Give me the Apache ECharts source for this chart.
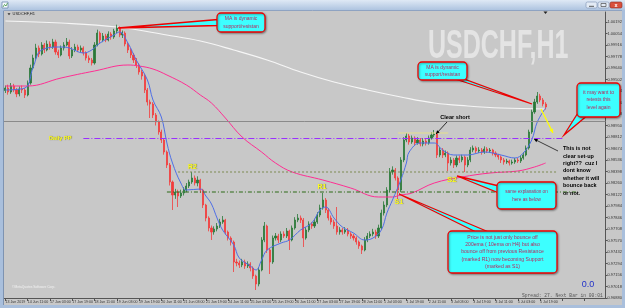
<!DOCTYPE html>
<html><head><meta charset="utf-8">
<script src="https://cdn.jsdelivr.net/npm/echarts@6/dist/echarts.min.js"></script>
<style>html,body{margin:0;padding:0;background:#c8c8c8;overflow:hidden}#c{width:625px;height:308px}</style>
</head><body><div id="c"></div>
<script>
// ---------- DATA ----------
const tickLabels = ["13 Jun 2019","14 Jun 11:00","17 Jun 03:00","17 Jun 19:00","18 Jun 11:00","19 Jun 03:00","19 Jun 19:00","20 Jun 11:00","21 Jun 03:00","21 Jun 19:00","24 Jun 11:00","25 Jun 03:00","25 Jun 19:00","26 Jun 11:00","27 Jun 03:00","27 Jun 19:00","28 Jun 11:00","1 Jul 03:00","1 Jul 19:00","2 Jul 11:00","3 Jul 03:00","3 Jul 19:00","4 Jul 11:00","5 Jul 03:00","5 Jul 19:00"];
const yTickValues = [0.96880,0.97018,0.97156,0.97294,0.97432,0.97570,0.97708,0.97846,0.97984,0.98122,0.98260,0.98398,0.98536,0.98674,0.98812,0.98950,0.99088,0.99226,0.99364,0.99502,0.99640,0.99778,0.99916,1.00054,1.00192];
const firstOpen = 0.99370;
const closes = [
0.99400,0.99352,0.99424,0.99376,0.99328,0.99388,0.99376,0.99316,0.99460,0.99640,
0.99760,0.99880,0.99808,0.99916,0.99856,0.99928,0.99892,0.99952,0.99832,0.99796,
0.99880,0.99916,0.99952,0.99784,0.99856,0.99892,0.99856,0.99880,0.99820,0.99760,
0.99736,0.99700,0.99916,1.00060,0.99976,1.00024,0.99976,1.00048,1.00012,1.00084,
1.00120,1.00036,1.00060,0.99928,0.99856,0.99796,0.99736,0.99676,0.99592,0.99544,
0.99376,0.99232,0.99208,0.99076,0.98992,0.98872,0.98776,0.98632,0.98476,0.98272,
0.98116,0.98152,0.98104,0.98140,0.98176,0.98224,0.98272,0.98320,0.98260,0.98296,
0.98176,0.97996,0.97840,0.97720,0.97672,0.97708,0.97744,0.97792,0.97816,0.97672,
0.97600,0.97552,0.97312,0.97300,0.97276,0.97312,0.97264,0.97288,0.97240,0.97144,
0.97048,0.97216,0.97576,0.97744,0.97456,0.97312,0.97600,0.97624,0.97576,0.97648,
0.97624,0.97684,0.97576,0.97720,0.97816,0.97840,0.97816,0.97600,0.97696,0.97768,
0.97744,0.97792,0.97876,0.97960,0.98056,0.97936,0.97840,0.97792,0.97744,0.97672,
0.97696,0.97672,0.97696,0.97648,0.97624,0.97600,0.97552,0.97504,0.97456,0.97576,
0.97624,0.97648,0.97672,0.97624,0.97720,0.97900,0.97996,0.98176,0.98392,0.98416,
0.98320,0.98176,0.98536,0.98776,0.98824,0.98752,0.98800,0.98740,0.98776,0.98728,
0.98764,0.98740,0.98800,0.98836,0.98848,0.98596,0.98656,0.98596,0.98620,0.98500,
0.98536,0.98476,0.98560,0.98536,0.98572,0.98476,0.98536,0.98656,0.98680,0.98644,
0.98656,0.98632,0.98668,0.98644,0.98656,0.98620,0.98596,0.98572,0.98536,0.98512,
0.98524,0.98500,0.98512,0.98536,0.98524,0.98560,0.98596,0.98680,0.98872,0.99112,
0.99232,0.99304,0.99256,0.99208,0.99172];
const highs = [
0.99430,0.99440,0.99460,0.99450,0.99400,0.99420,0.99430,0.99400,0.99490,0.99680,
0.99800,0.99930,0.99910,0.99950,0.99940,0.99970,0.99960,0.99990,0.99980,0.99860,
0.99910,0.99950,1.00000,0.99980,0.99890,0.99930,0.99920,0.99910,0.99900,0.99840,
0.99790,0.99760,0.99950,1.00100,1.00080,1.00060,1.00050,1.00080,1.00070,1.00110,
1.00160,1.00140,1.00090,1.00080,0.99950,0.99880,0.99820,0.99760,0.99700,0.99620,
0.99570,0.99400,0.99260,0.99230,0.99100,0.99010,0.98900,0.98800,0.98650,0.98500,
0.98290,0.98190,0.98180,0.98180,0.98210,0.98260,0.98300,0.98392,0.98350,0.98340,
0.98310,0.98190,0.98010,0.97860,0.97750,0.97740,0.97780,0.97830,0.97864,0.97830,
0.97690,0.97620,0.97570,0.97350,0.97330,0.97350,0.97340,0.97320,0.97310,0.97260,
0.97160,0.97250,0.97610,0.97792,0.97760,0.97480,0.97630,0.97660,0.97650,0.97680,
0.97680,0.97720,0.97700,0.97750,0.97850,0.97888,0.97870,0.97840,0.97730,0.97800,
0.97790,0.97830,0.97910,0.98000,0.98140,0.98080,0.97960,0.97870,0.97820,0.97972,
0.97730,0.97720,0.97730,0.97720,0.97670,0.97650,0.97620,0.97570,0.97520,0.97610,
0.97660,0.97680,0.97710,0.97700,0.97760,0.97940,0.98040,0.98210,0.98440,0.98460,
0.98440,0.98340,0.98570,0.98810,0.98860,0.98850,0.98830,0.98820,0.98810,0.98800,
0.98800,0.98790,0.98830,0.98870,0.98896,0.98870,0.98690,0.98680,0.98650,0.98640,
0.98570,0.98560,0.98590,0.98590,0.98600,0.98590,0.98570,0.98690,0.98710,0.98700,
0.98690,0.98680,0.98700,0.98690,0.98680,0.98670,0.98640,0.98610,0.98590,0.98560,
0.98550,0.98540,0.98540,0.98560,0.98560,0.98590,0.98630,0.98710,0.98900,0.99140,
0.99270,0.99352,0.99330,0.99280,0.99230];
const lows = [
0.99340,0.99320,0.99330,0.99350,0.99290,0.99300,0.99340,0.99280,0.99300,0.99440,
0.99620,0.99740,0.99770,0.99790,0.99820,0.99840,0.99860,0.99870,0.99800,0.99760,
0.99780,0.99850,0.99900,0.99750,0.99760,0.99830,0.99830,0.99830,0.99790,0.99730,
0.99700,0.99670,0.99680,0.99900,0.99940,0.99950,0.99950,0.99960,0.99980,0.99990,
1.00060,1.00010,1.00000,0.99900,0.99820,0.99760,0.99700,0.99640,0.99560,0.99500,
0.99340,0.99190,0.99040,0.99040,0.98950,0.98840,0.98740,0.98600,0.98440,0.98230,
0.97936,0.98070,0.97972,0.98080,0.98110,0.98150,0.98200,0.98250,0.98230,0.98220,
0.98140,0.97960,0.97800,0.97680,0.97576,0.97640,0.97680,0.97720,0.97770,0.97640,
0.97570,0.97510,0.97192,0.97260,0.97240,0.97250,0.97230,0.97240,0.97200,0.97110,
0.96976,0.97020,0.97200,0.97550,0.97420,0.97168,0.97290,0.97570,0.97540,0.97550,
0.97600,0.97600,0.97456,0.97560,0.97700,0.97790,0.97780,0.97492,0.97580,0.97670,
0.97710,0.97720,0.97770,0.97850,0.97940,0.97900,0.97810,0.97760,0.97710,0.97640,
0.97640,0.97640,0.97650,0.97620,0.97590,0.97570,0.97520,0.97470,0.97408,0.97440,
0.97550,0.97600,0.97620,0.97590,0.97600,0.97700,0.97870,0.97970,0.98150,0.98360,
0.98290,0.98056,0.98150,0.98510,0.98750,0.98720,0.98730,0.98710,0.98720,0.98700,
0.98700,0.98710,0.98720,0.98780,0.98810,0.98560,0.98570,0.98560,0.98570,0.98404,
0.98470,0.98440,0.98450,0.98500,0.98510,0.98392,0.98450,0.98510,0.98630,0.98620,
0.98620,0.98600,0.98610,0.98620,0.98620,0.98590,0.98570,0.98540,0.98500,0.98480,
0.98490,0.98470,0.98480,0.98490,0.98500,0.98500,0.98540,0.98580,0.98660,0.98850,
0.99090,0.99210,0.99230,0.99180,0.99140];
// moving averages: [bar index, value]
const blueMA = [[0,0.99376],[7,0.99400],[10,0.99652],[13,0.99856],[20,0.99892],[23,0.99880],[28,0.99820],[31,0.99856],[34,0.99940],[39,1.00036],[41,1.00072],[44,0.99940],[47,0.99736],[51,0.99496],[53,0.99256],[56,0.99052],[58,0.98740],[60,0.98500],[63,0.98260],[65,0.98176],[70,0.98188],[72,0.98104],[74,0.98008],[76,0.97840],[78,0.97696],[82,0.97516],[84,0.97360],[88,0.97264],[90,0.97216],[92,0.97336],[94,0.97456],[99,0.97540],[102,0.97576],[106,0.97696],[110,0.97780],[113,0.97936],[115,0.97972],[118,0.97840],[121,0.97732],[125,0.97660],[129,0.97576],[132,0.97600],[135,0.97696],[137,0.97900],[139,0.98056],[142,0.98296],[144,0.98500],[145,0.98632],[149,0.98740],[154,0.98740],[157,0.98656],[161,0.98596],[166,0.98596],[172,0.98632],[178,0.98596],[183,0.98560],[186,0.98620],[189,0.98776],[191,0.98992],[194,0.99160]];
const pinkMA = [[0,0.99424],[8,0.99424],[20,0.99520],[32,0.99604],[44,0.99676],[48,0.99664],[53,0.99628],[58,0.99556],[65,0.99436],[70,0.99316],[74,0.99220],[79,0.99040],[85,0.98812],[92,0.98632],[97,0.98500],[103,0.98392],[114,0.98296],[124,0.98200],[134,0.98092],[139,0.98092],[142,0.98116],[146,0.98140],[154,0.98260],[164,0.98332],[174,0.98380],[184,0.98404],[190,0.98452],[194,0.98500]];
const whiteMA = [[0,1.00204],[20,1.00180],[40,1.00132],[58,1.00036],[70,0.99964],[82,0.99856],[94,0.99736],[106,0.99592],[118,0.99472],[130,0.99376],[142,0.99292],[154,0.99220],[166,0.99184],[178,0.99160],[194,0.99148]];
// horizontal levels: value and [from bar, to bar]
const dailyPP = 0.98794, ppSpan = [28, 200];
const levelR2 = 0.98392, r2Span = [62, 198];
const levelR1 = 0.98152, r1Span = [58, 205];
const levelShort = 0.98860, shortSpan = [141, 159];
const N_CATS = 216;

// ---------- BUILD ----------
const cats = [];
for (let i = 0; i < N_CATS; i++) cats.push(i % 8 === 0 && tickLabels[i / 8] ? tickLabels[i / 8] : '');
const ohlc = closes.map((c, i) => [i === 0 ? firstOpen : closes[i - 1], c, lows[i], highs[i]]);
const seg = (v, s) => [[s[0], v], [s[1], v]];

const CYAN = '#3dffff', RED = '#ee0000', CTXT = '#b8285e';
const F = 'Liberation Sans, Arial, sans-serif';
const G = [];
function callout(box, tail, lines, fs, lh) {
  G.push({type:'polygon', z:60, shape:{points:tail}, style:{fill:CYAN, stroke:RED, lineWidth:1.3}});
  G.push({type:'rect', z:61, shape:{x:box[0], y:box[1], width:box[2], height:box[3], r:4}, style:{fill:CYAN, stroke:RED, lineWidth:1.3, shadowBlur:2, shadowColor:'rgba(0,0,0,0.35)', shadowOffsetX:1, shadowOffsetY:1}});
  G.push({type:'text', z:62, x:box[0]+box[2]/2, y:box[1]+box[3]/2, style:{text:lines.join('\n'), fill:CTXT, font:fs+'px '+F, lineHeight:lh, align:'center', verticalAlign:'middle'}});
}
function arrow(x1,y1,x2,y2,color,w,h) {
  G.push({type:'line', z:63, shape:{x1,y1,x2,y2}, style:{stroke:color, lineWidth:w}});
  const a = Math.atan2(y2-y1, x2-x1), L = h, W = h*0.5;
  const bx = x2 - L*Math.cos(a), by = y2 - L*Math.sin(a);
  G.push({type:'polygon', z:63, shape:{points:[[x2,y2],[bx + W*Math.sin(a), by - W*Math.cos(a)],[bx - W*Math.sin(a), by + W*Math.cos(a)]]}, style:{fill:color}});
}
function txt(x,y,t,fs,fill,opt) {
  G.push(Object.assign({type:'text', z:62, x, y, style:Object.assign({text:t, fill, font:fs+'px '+F, align:'left', verticalAlign:'middle'}, opt||{})}));
}
// window chrome
G.push({type:'rect', z:90, shape:{x:0,y:0,width:625,height:10}, style:{fill:new echarts.graphic.LinearGradient(0,0,0,1,[{offset:0,color:'#dfe9f5'},{offset:1,color:'#aec4e0'}])}});
G.push({type:'line', z:90, shape:{x1:0,y1:10.5,x2:625,y2:10.5}, style:{stroke:'#8ea3c2', lineWidth:1}});
G.push({type:'rect', z:91, shape:{x:2,y:2,width:6,height:6}, style:{fill:'#f4f8fc', stroke:'#5f7fa8', lineWidth:0.7}});
G.push({type:'polyline', z:92, shape:{points:[[3,7],[4.5,4.5],[6,6],[7.5,3]]}, style:{stroke:'#2a8a2a', lineWidth:0.7, fill:null}});
txt(11,5.2,'USDCHF,H1',5.5,'#1a1a1a',{font:'bold 5.5px '+F});
[[586,'#e3ebf5'],[598,'#e3ebf5'],[610,'#d9503c']].forEach(([x,c],k)=>{
  G.push({type:'rect', z:91, shape:{x,y:2,width:k===2?12:11,height:6,r:1.5}, style:{fill:c, stroke:k===2?'#8a2a20':'#7a8fb0', lineWidth:0.6}});
});
G.push({type:'line', z:92, shape:{x1:589,y1:6.3,x2:594,y2:6.3}, style:{stroke:'#333', lineWidth:0.8}});
G.push({type:'rect', z:92, shape:{x:601,y:3.5,width:5,height:3}, style:{fill:null, stroke:'#333', lineWidth:0.6}});
G.push({type:'text', z:92, x:616, y:5.2, style:{text:'x', fill:'#fff', font:'bold 5.5px '+F, align:'center', verticalAlign:'middle'}});
G.push({type:'rect', z:90, shape:{x:0,y:10,width:3.5,height:298}, style:{fill:'#a9bfdc'}});
G.push({type:'line', z:90, shape:{x1:3.5,y1:11,x2:3.5,y2:305}, style:{stroke:'#6f86a8', lineWidth:0.8}});
G.push({type:'rect', z:90, shape:{x:622,y:10,width:3,height:298}, style:{fill:'#a9bfdc'}});
G.push({type:'rect', z:90, shape:{x:0,y:305,width:625,height:3}, style:{fill:'#a9bfdc'}});
// subtitle
G.push({type:'polygon', z:62, shape:{points:[[7.5,13.2],[10.5,13.2],[9,15.2]]}, style:{fill:'#333'}});
txt(12.5,14.3,'USDCHF,H1',4,'#222');
// watermark
G.push({type:'text', z:1, x:428, y:47, scaleX:0.61, style:{text:'USDCHF,H1', fill:'#e4e4e4', font:'bold 41px '+F, align:'left', verticalAlign:'middle'}});
// chart shift marker
G.push({type:'polygon', z:62, shape:{points:[[543.5,11.5],[547.5,11.5],[545.5,14]]}, style:{fill:'#222'}});
// callouts
callout([217,13,48,19], [[218,19.5],[118,28],[218,25.5]], ['MA is dynamic','support/resistan'], 5, 7.5);
callout([418,62,49,18], [[452,78],[532,104],[461,78]], ['MA is dynamic','support/resistan'], 5, 7.3);
callout([577,83,43,34], [[581,108],[564,135],[589,114]], ['it may want to','retests this','level again'], 5, 7.3);
callout([497,182,59,27], [[499,186],[457,176],[499,193]], ['same explanation on','here as below'], 4.6, 7.6);
callout([448,231,109,42], [[478,233],[399,194],[491,233]], ['Price is not just only bounce off','200ema ( 10ema on H4) but also','bounce off from previous Resistance','(marked R1) now becoming Support','(marked as S1)'], 5.1, 7.3);
// black notes
G.push({type:'text', z:62, x:455, y:117.5, style:{text:'Clear short', fill:'#000', font:'bold 5.6px '+F, align:'center', verticalAlign:'middle'}});
arrow(447,122,436,134,'#000',0.8,3.5);
G.push({type:'text', z:62, x:563, y:145, style:{text:['This is not','clear set-up','right??  cuz I','dont know','whether it will','bounce back','or not.'].join('\n'), fill:'#000', font:'bold 5.5px '+F, lineHeight:7.4, align:'left', verticalAlign:'top'}});
arrow(558,151,534,139,'#000',0.7,3.5);
arrow(541,109,553,133,'#ffff00',1.3,4);
// yellow labels
const YL = {textShadowColor:'rgba(60,60,0,0.7)', textShadowBlur:1, textShadowOffsetX:0.5, textShadowOffsetY:0.5};
txt(49,138,'Daily PP',5.6,'#ffff20',Object.assign({font:'bold 5.6px '+F},YL));
txt(188,167,'R2',7,'#ffff20',Object.assign({font:'bold 7px '+F},YL));
txt(317.5,187,'R1',7,'#ffff20',Object.assign({font:'bold 7px '+F},YL));
txt(394.5,202,'S1',7,'#ffff20',Object.assign({font:'bold 7px '+F},YL));
txt(447,179.5,'S2',8,'#ffff20',Object.assign({font:'bold 8px '+F},YL));
// misc texts
txt(12,287.5,'©MetaQuotes Software Corp.',3.3,'#f2f2f2');
G.push({type:'text', z:62, x:588, y:285, style:{text:'0.0', fill:'#2030c8', font:'9px '+F, align:'center', verticalAlign:'middle'}});
txt(522,295.5,'Spread: 27. Next Bar in 00:01',4.65,'#555',{font:'4.65px Liberation Mono, monospace'});

const chart = echarts.init(document.getElementById('c'), null, {renderer:'canvas'});
chart.setOption({
  animation: false,
  backgroundColor: '#c8c8c8',
  grid: {left: 4, top: 12, width: 601.5, height: 286},
  xAxis: {type:'category', data:cats, boundaryGap:true,
    axisLine:{lineStyle:{color:'#555', width:1}},
    axisTick:{show:true, interval:7, alignWithLabel:true, length:3, lineStyle:{color:'#555'}},
    axisLabel:{interval:7, fontSize:3.6, color:'#333', align:'left', margin:2, fontFamily:'Liberation Sans'},
    splitLine:{show:false}},
  yAxis: {type:'value', position:'right', min:0.9688, max:1.00312, scale:true,
    axisLine:{show:true, lineStyle:{color:'#555', width:1}},
    axisTick:{show:true, length:2, customValues:yTickValues, lineStyle:{color:'#555'}},
    axisLabel:{customValues:yTickValues, fontSize:4, color:'#333', margin:2, fontFamily:'Liberation Sans', formatter:v=>v.toFixed(5)},
    splitLine:{show:false}},
  series: [
    {type:'line', data:whiteMA, smooth:0.4, showSymbol:false, lineStyle:{color:'#f6f6f6', width:1.2}, z:2},
    {type:'candlestick', data:ohlc, barWidth:1.6, z:3,
      itemStyle:{color:'#2a7838', color0:'#f23c3c', borderColor:'#2a7838', borderColor0:'#f23c3c', borderWidth:0.8},
      markLine:{silent:true, symbol:'none', label:{show:false}, lineStyle:{color:'#8a8a8a', width:1, type:'solid'}, data:[{yAxis:closes[closes.length-1]}]}},
    {type:'line', data:pinkMA, smooth:0.4, showSymbol:false, lineStyle:{color:'#ff2e93', width:1}, z:4},
    {type:'line', data:blueMA, smooth:0.4, showSymbol:false, lineStyle:{color:'#4f6fe6', width:1}, z:4},
    {type:'line', data:seg(dailyPP, ppSpan), showSymbol:false, lineStyle:{color:'#9a30ff', width:1, type:[6,2,1,2]}, z:5},
    {type:'line', data:seg(levelR2, r2Span), showSymbol:false, lineStyle:{color:'#7c8a50', width:1, type:[2,2]}, z:5},
    {type:'line', data:seg(levelR1, r1Span), showSymbol:false, lineStyle:{color:'#2d6b16', width:1, type:[4,2,1,2]}, z:5},
    {type:'line', data:seg(levelShort, shortSpan), showSymbol:false, lineStyle:{color:'#e6e08a', width:1.2}, z:5}
  ],
  graphic: G
});
</script></body></html>
